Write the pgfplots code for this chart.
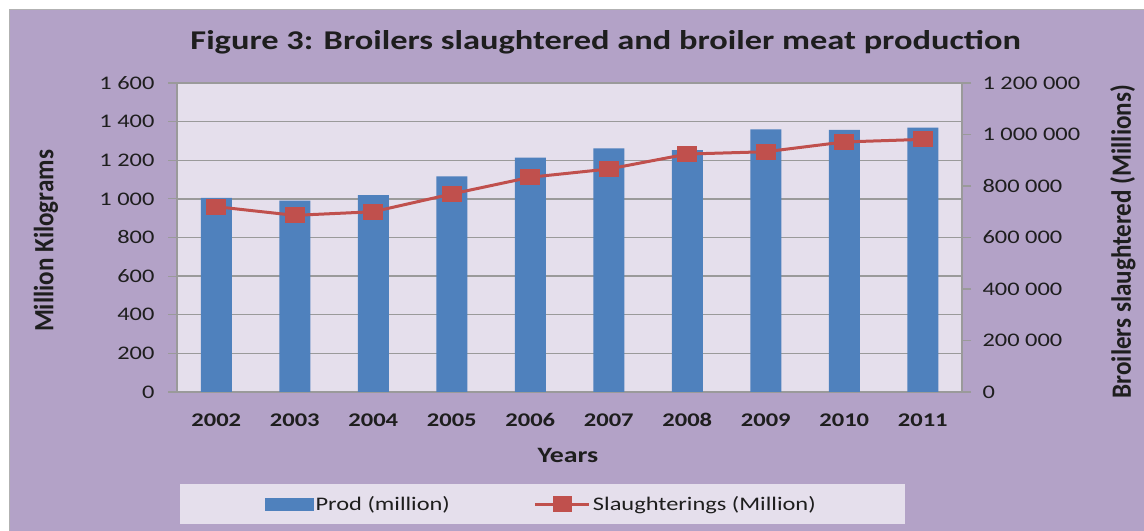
\documentclass[border=0pt]{standalone}
\usepackage{fontspec}
\setmainfont{Carlito}[FakeStretch=1.27]
\newfontfamily\rotfont{Carlito}[FakeStretch=0.9]
\usepackage{pgfplots}
\pgfplotsset{compat=1.18}
\definecolor{bgpurple}{HTML}{B3A2C7}
\definecolor{plotbg}{HTML}{E5DFEC}
\definecolor{barblue}{HTML}{4F81BD}
\definecolor{linered}{HTML}{C0504D}
\definecolor{gridgray}{HTML}{9A9A9A}
\definecolor{txt}{HTML}{1E1E1E}
\begin{document}
\begin{tikzpicture}[x=1bp,y=1bp]
\path[use as bounding box, fill=white] (0,0) rectangle (1144,531);
\fill[bgpurple] (9,0) rectangle (1144,521);
\draw[gray!60, line width=1bp] (9,0) -- (9,521) -- (1144,521);
\fill[plotbg] (180,7) rectangle (905,47);
\begin{axis}[
  at={(177bp,139bp)}, anchor=south west,
  scale only axis, width=785bp, height=309bp,
  xmin=-0.5, xmax=9.5, ymin=0, ymax=1600,
  axis background/.style={fill=plotbg},
  axis y line*=left, axis x line*=bottom,
  axis line style={gridgray, line width=1.2bp, -},
  xtick={0,...,9},
  xticklabels={2002,2003,2004,2005,2006,2007,2008,2009,2010,2011},
  x tick style={draw=none},
  ytick={0,200,...,1600},
  yticklabels={0,200,400,600,800,1 000,1 200,1 400,1 600},
  y tick style={gridgray, line width=1.2bp},
  tick align=outside, major tick length=9bp,
  ymajorgrids, grid style={gridgray, line width=1.3bp},
  /pgf/number format/assume math mode=true,
  yticklabel style={font=\fontsize{19.3}{22}\selectfont, color=txt, xshift=-10bp},
  xticklabel style={font=\bfseries\fontsize{19.4}{22}\selectfont, color=txt, yshift=-9bp},
]
\addplot[ybar, bar width=31bp, fill=barblue, draw=none] coordinates {
(0,1005) (1,991) (2,1020) (3,1117) (4,1213) (5,1262) (6,1253) (7,1360) (8,1357) (9,1369)};
\end{axis}
\begin{axis}[
  at={(177bp,139bp)}, anchor=south west,
  scale only axis, width=785bp, height=309bp,
  xmin=-0.5, xmax=9.5, ymin=0, ymax=1200000,
  axis y line*=right, axis x line=none,
  axis line style={gridgray, line width=1.2bp, -},
  scaled y ticks=false,
  ytick={0,200000,400000,600000,800000,1000000,1200000},
  yticklabels={0,200 000,400 000,600 000,800 000,1 000 000,1 200 000},
  y tick style={gridgray, line width=1.2bp},
  tick align=outside, major tick length=9bp,
  /pgf/number format/assume math mode=true,
  yticklabel style={font=\fontsize{19.3}{22}\selectfont, color=txt, xshift=8bp},
  legend style={at={(0.4643,-0.3625)}, anchor=center, draw=none, fill=none,
    font=\fontsize{19.3}{22}\selectfont, text=txt,
    /tikz/every even column/.append style={column sep=82bp}},
  legend columns=2,
]
\addlegendimage{legend image code/.code={\fill[barblue] (0bp,-6bp) rectangle (48bp,6bp);}}
\addlegendentry{Prod (million)}
\addplot[linered, line width=3bp, mark=square*, mark size=6.6bp,
  mark options={xscale=1.27, solid},
  legend image code/.code={\draw[linered, line width=3bp, mark=square*, mark size=6.6bp, mark options={xscale=1.27}, mark repeat=2, mark phase=2] plot coordinates {(0bp,0bp) (27bp,0bp) (54bp,0bp)};}]
coordinates {(0,719600) (1,686000) (2,700000) (3,769000) (4,834000) (5,866000) (6,924000) (7,933000) (8,971000) (9,981000)};
\addlegendentry{Slaughterings (Million)}
\end{axis}
\node[anchor=base, font=\bfseries\fontsize{27.2}{30}\selectfont, color=txt] at (605.7,481) {Figure 3: Broilers slaughtered and broiler meat production};
\node[rotate=90, font=\rotfont\bfseries\fontsize{28}{30}\selectfont, color=txt] at (46,290) {Million Kilograms};
\node[rotate=90, font=\rotfont\bfseries\fontsize{28}{30}\selectfont, color=txt] at (1123,289.3) {Broilers slaughtered (Millions)};
\node[anchor=base, font=\bfseries\fontsize{22}{26}\selectfont, color=txt] at (568,68) {Years};
\end{tikzpicture}
\end{document}
